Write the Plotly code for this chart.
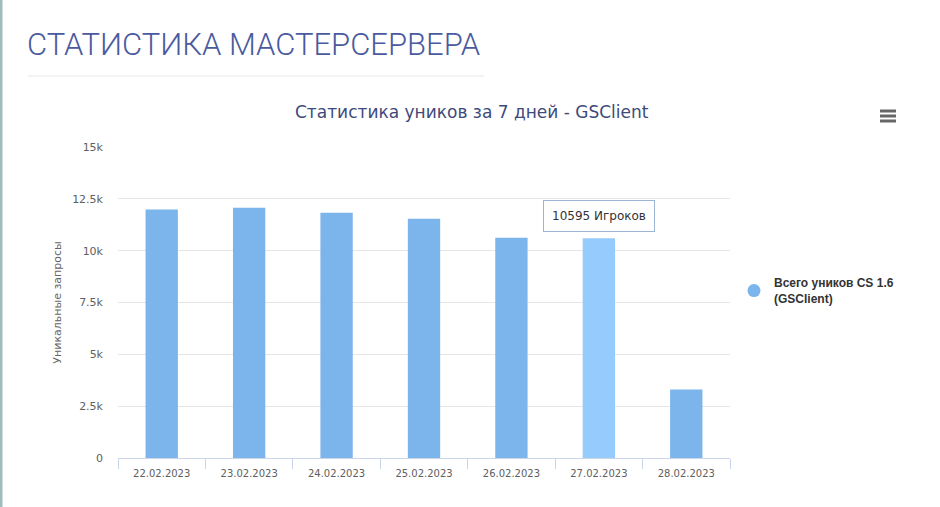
import plotly.graph_objects as go

# data
dates = ["22.02.2023", "23.02.2023", "24.02.2023", "25.02.2023",
         "26.02.2023", "27.02.2023", "28.02.2023"]
uniques = [11980, 12070, 11830, 11540, 10620, 10595, 3300]
y_ticks = [0, 2500, 5000, 7500, 10000, 12500, 15000]
y_tick_labels = ["0", "2.5k", "5k", "7.5k", "10k", "12.5k", "15k"]
series_name = "Всего уников CS 1.6<br>(GSClient)"
hover_idx = 5

W, H = 940, 507
L, R, T, B = 118, 730, 147, 458


def px(x):
    return (x - L) / (R - L)


def py(y):
    return (B - y) / (B - T)


bar_colors = ["#7cb5ec"] * len(dates)
bar_colors[hover_idx] = "#96cbfd"

fig = go.Figure()
fig.add_trace(go.Bar(
    x=dates, y=uniques,
    marker=dict(color=bar_colors, line=dict(width=0)),
    showlegend=False,
))
# legend entry with a round symbol, like the original
fig.add_trace(go.Scatter(
    x=[None], y=[None], mode="markers",
    name="<b>" + series_name + "</b>",
    marker=dict(symbol="circle", size=13, color="#7cb5ec"),
))

fig.update_layout(
    width=W, height=H,
    margin=dict(l=L, r=W - R, t=T, b=H - B),
    paper_bgcolor="white", plot_bgcolor="white",
    bargap=0.63,
    font=dict(family="DejaVu Sans", color="#606060", size=11),
    legend=dict(x=px(734), y=py(291), xanchor="left", yanchor="middle",
                font=dict(family="Liberation Sans", size=12, color="#333333"),
                itemwidth=30),
    showlegend=True,
)

fig.update_xaxes(
    range=[-0.5, 6.5], showline=True, linecolor="#ccd6eb",
    ticks="outside", tickson="boundaries", ticklen=10, tickcolor="#ccd6eb",
    ticklabelstandoff=6,
    showgrid=False, tickfont=dict(size=10, color="#606060"),
)
fig.update_yaxes(
    range=[0, 15000], tickvals=y_ticks, ticktext=y_tick_labels,
    gridcolor="#e6e6e6", zeroline=False, ticklabelstandoff=14,
    tickfont=dict(size=11, color="#606060"),
    title=dict(text="Уникальные запросы", standoff=8,
               font=dict(size=11, color="#666666")),
)

# page heading and its underline
fig.add_annotation(text="СТАТИСТИКА МАСТЕРСЕРВЕРА", xref="paper", yref="paper",
                   x=px(25), y=py(45), xanchor="left", yanchor="middle",
                   showarrow=False,
                   font=dict(family="Roboto", size=31, color="#4a5a9e", weight=300))
fig.add_shape(type="line", xref="paper", yref="paper",
              x0=px(28), x1=px(484), y0=py(76), y1=py(76),
              line=dict(color="#e8e8e8", width=1))
# left page border
fig.add_shape(type="line", xref="paper", yref="paper",
              x0=px(1), x1=px(1), y0=py(0), y1=py(507),
              line=dict(color="#9fbcbc", width=3))

# chart title
fig.add_annotation(text="Статистика уников за 7 дней - GSClient",
                   xref="paper", yref="paper", x=px(472), y=py(112),
                   xanchor="center", yanchor="middle", showarrow=False,
                   font=dict(size=17, color="#3e4a7a"))

# hamburger menu icon
for yy in (111, 116, 121):
    fig.add_shape(type="line", xref="paper", yref="paper",
                  x0=px(880), x1=px(896), y0=py(yy), y1=py(yy),
                  line=dict(color="#666666", width=3))

# tooltip of the hovered bar
fig.add_annotation(text="10595 Игроков", x=dates[hover_idx], y=uniques[hover_idx],
                   xref="x", yref="y", yanchor="bottom", yshift=6,
                   showarrow=False, bgcolor="rgba(255,255,255,0.95)",
                   bordercolor="#9bb5d6", borderwidth=1, borderpad=8,
                   font=dict(size=12, color="#333333"))

fig.write_html("out.html", config={"displayModeBar": False},
               post_script="document.body.style.margin='0';")
